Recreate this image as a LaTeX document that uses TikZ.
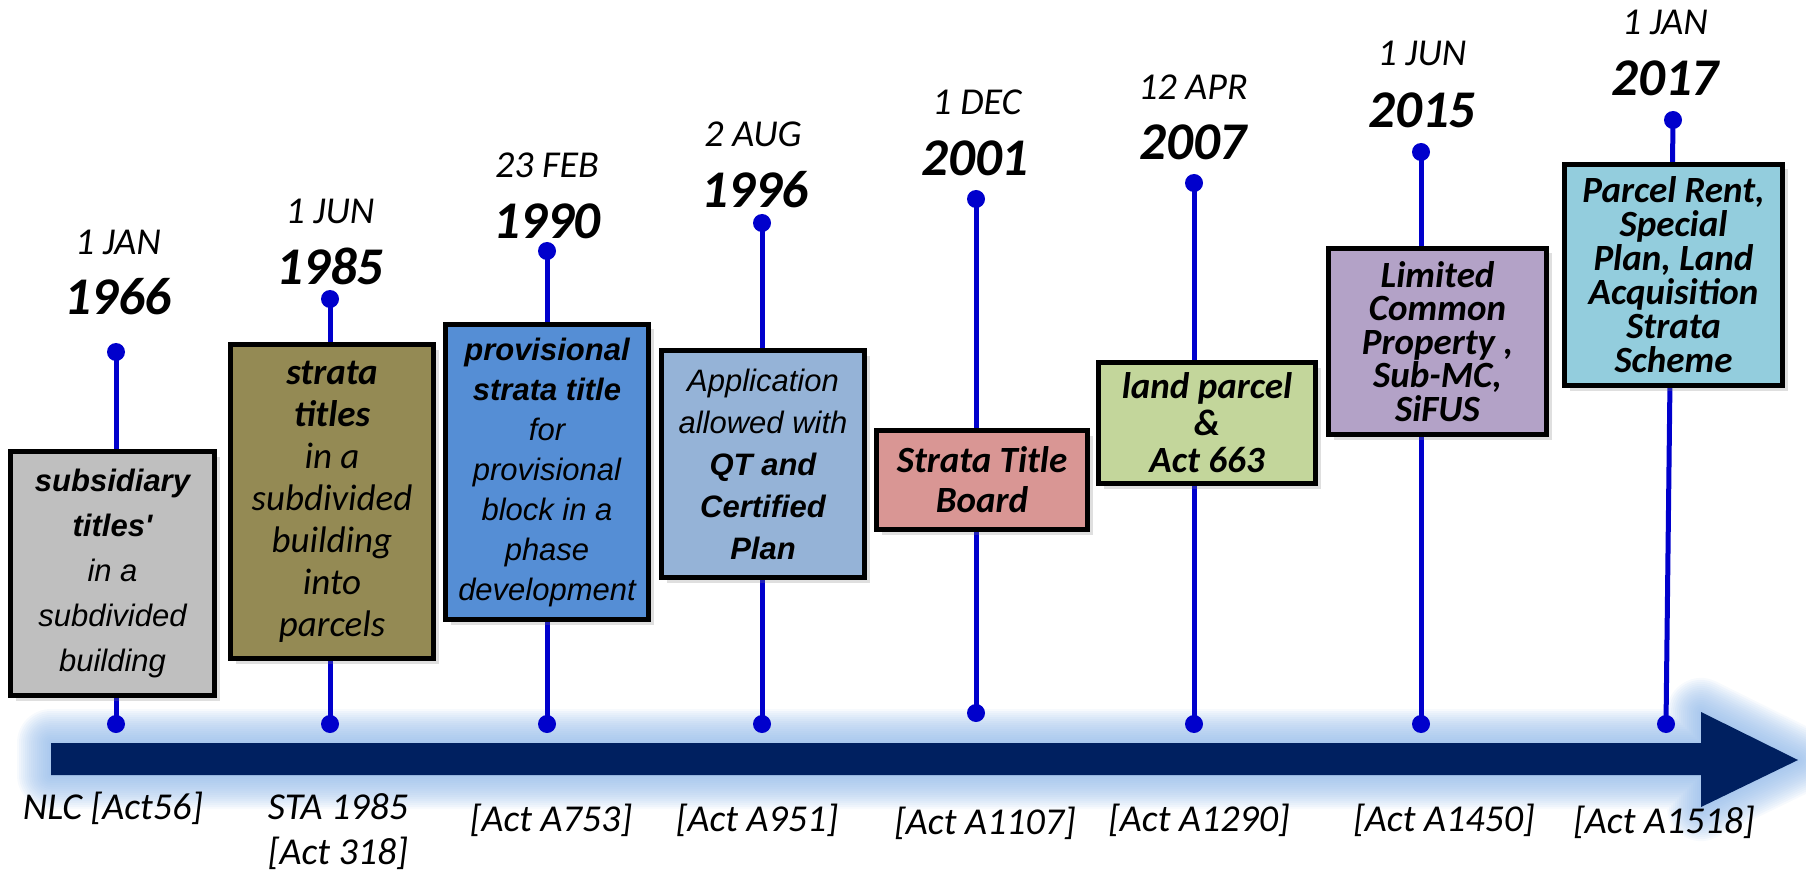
\documentclass[tikz,border=0pt]{standalone}
\usepackage{fontspec}
\setmainfont{Carlito}
\newfontfamily\arialfont{Liberation Sans}
\usepackage{tikz}
\usetikzlibrary{shadows}
\definecolor{stemblue}{HTML}{0000CC}
\definecolor{navy}{HTML}{002060}
\definecolor{glowblue}{HTML}{8DB6E8}
\definecolor{boxgray}{HTML}{BFBFBF}
\definecolor{boxolive}{HTML}{948A54}
\definecolor{boxblue}{HTML}{558ED5}
\definecolor{boxsky}{HTML}{95B3D7}
\definecolor{boxpink}{HTML}{D99694}
\definecolor{boxgreen}{HTML}{C3D69B}
\definecolor{boxlilac}{HTML}{B3A2C7}
\definecolor{boxcyan}{HTML}{93CDDD}

\begin{document}
\begin{tikzpicture}[x=1pt, y=-1pt,
    eventbox/.style={draw=black, line width=5pt, align=center, inner sep=0pt,
      drop shadow={shadow xshift=5pt, shadow yshift=-5pt, opacity=0.25}},
    stemline/.style={stemblue, line width=5pt},
    stemdot/.style={circle, fill=stemblue, inner sep=0pt, minimum size=18pt},
    daylabel/.style={font=\fontsize{38}{44}\selectfont\itshape},
    yearlabel/.style={font=\fontsize{53}{60}\selectfont\bfseries\itshape},
    actlabel/.style={font=\fontsize{38}{45}\selectfont\itshape, align=center}]
    \useasboundingbox (0,0) rectangle (1806,874);

    % Time arrow with glow
    \foreach \w in {4,8,...,68}
        \draw[glowblue, line width=\w pt, opacity=0.075, line join=round]
            (51,743) -- (1701,743) -- (1701,712) -- (1798,760) -- (1701,807) -- (1701,775) -- (51,775) -- cycle;
    \fill[navy] (51,743) -- (1701,743) -- (1701,712) -- (1798,760) -- (1701,807) -- (1701,775) -- (51,775) -- cycle;

    % Stem dots
    \node[stemdot] (t1) at (116,352) {};
    \node[stemdot] (t2) at (330,299) {};
    \node[stemdot] (t3) at (547,251) {};
    \node[stemdot] (t4) at (762,223) {};
    \node[stemdot] (t5) at (976,199) {};
    \node[stemdot] (t6) at (1194,183) {};
    \node[stemdot] (t7) at (1421,152) {};
    \node[stemdot] (t8) at (1673,120) {};
    \node[stemdot] (b1) at (116,724) {};
    \node[stemdot] (b2) at (330,724) {};
    \node[stemdot] (b3) at (547,724) {};
    \node[stemdot] (b4) at (762,724) {};
    \node[stemdot] (b5) at (976,713) {};
    \node[stemdot] (b6) at (1194,724) {};
    \node[stemdot] (b7) at (1421,724) {};
    \node[stemdot] (b8) at (1666,724) {};
    \foreach \i in {1,...,8}
        \draw[stemline] (t\i.center) -- (b\i.center);

    % Event boxes
    \node[eventbox, fill=boxgray, minimum width=204pt, minimum height=244pt,
        font=\arialfont\fontsize{31}{45}\selectfont\itshape] (box1) at (112.5,573.5)
        {\textbf{subsidiary}\\\textbf{titles'}\\in a\\subdivided\\building};
    \node[eventbox, fill=boxolive, minimum width=203pt, minimum height=314pt,
        font=\fontsize{37}{42}\selectfont\itshape] (box2) at (332,501.5)
        {\textbf{strata}\\\textbf{titles}\\in a\\subdivided\\building\\into\\parcels};
    \node[eventbox, fill=boxblue, minimum width=203pt, minimum height=295pt,
        font=\arialfont\fontsize{31}{40}\selectfont\itshape] (box3) at (547,472)
        {\textbf{provisional}\\\textbf{strata title}\\for\\provisional\\block in a\\phase\\development};
    \node[eventbox, fill=boxpink, minimum width=211pt, minimum height=99pt,
        font=\fontsize{37}{40}\selectfont\bfseries\itshape] (box5) at (982,480)
        {Strata Title\\Board};
    \node[eventbox, fill=boxsky, minimum width=203pt, minimum height=227pt,
        font=\arialfont\fontsize{31}{42}\selectfont\itshape] (box4) at (763,464)
        {Application\\allowed with\\\textbf{QT and}\\\textbf{Certified}\\\textbf{Plan}};
    \node[eventbox, fill=boxgreen, minimum width=217pt, minimum height=121pt,
        font=\fontsize{37}{37}\selectfont\bfseries\itshape] (box6) at (1207,423)
        {land parcel\\\&\\Act 663};
    \node[eventbox, fill=boxlilac, minimum width=218pt, minimum height=186pt,
        font=\fontsize{37}{33.5}\selectfont\bfseries\itshape] (box7) at (1437.5,341.5)
        {Limited\\Common\\Property ,\\Sub-MC,\\SiFUS};
    \node[eventbox, fill=boxcyan, minimum width=218pt, minimum height=221pt,
        font=\fontsize{37}{34}\selectfont\bfseries\itshape] (box8) at (1673.5,275)
        {Parcel Rent,\\Special\\Plan, Land\\Acquisition\\Strata\\Scheme};

    % Dates
    \node[daylabel] (d1) at (118,242) {1 JAN};
    \node[yearlabel] (y1) at (118,297) {1966};
    \node[daylabel] (d2) at (330,211) {1 JUN};
    \node[yearlabel] (y2) at (330,266) {1985};
    \node[daylabel] (d3) at (547,165) {23 FEB};
    \node[yearlabel] (y3) at (547,221) {1990};
    \node[daylabel] (d4) at (753,134) {2 AUG};
    \node[yearlabel] (y4) at (755,190) {1996};
    \node[daylabel] (d5) at (977,102) {1 DEC};
    \node[yearlabel] (y5) at (975,158) {2001};
    \node[daylabel] (d6) at (1193,87) {12 APR};
    \node[yearlabel] (y6) at (1193,142) {2007};
    \node[daylabel] (d7) at (1422,53) {1 JUN};
    \node[yearlabel] (y7) at (1422,110) {2015};
    \node[daylabel] (d8) at (1665,22) {1 JAN};
    \node[yearlabel] (y8) at (1665,78) {2017};

    % Acts below the arrow
    \node[actlabel] (a1) at (113,808) {NLC [Act56]};
    \node[actlabel] (a2) at (338,832) {STA 1985\\{}[Act 318]};
    \node[actlabel] (a3) at (551,820) {[Act A753]};
    \node[actlabel] (a4) at (757,820) {[Act A951]};
    \node[actlabel] (a5) at (985,823) {[Act A1107]};
    \node[actlabel] (a6) at (1199,820) {[Act A1290]};
    \node[actlabel] (a7) at (1444,820) {[Act A1450]};
    \node[actlabel] (a8) at (1664,822) {[Act A1518]};
\end{tikzpicture}
\end{document}
